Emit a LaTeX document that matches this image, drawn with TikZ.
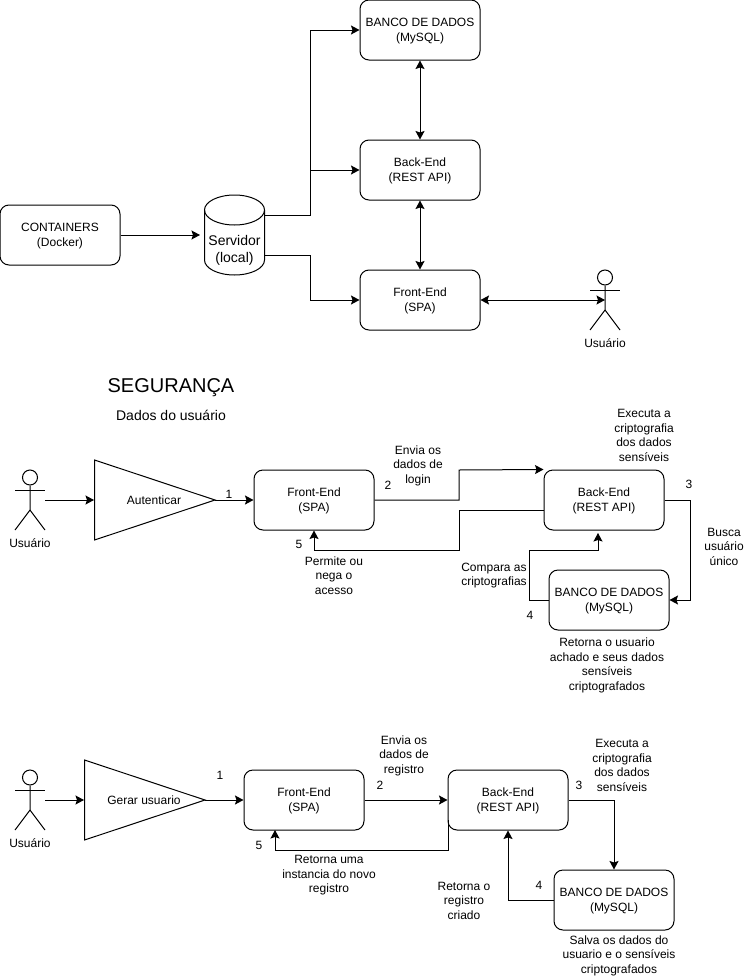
\documentclass[tikz,border=0pt]{standalone}
\usepackage{fontspec}
\setmainfont{Liberation Sans}
\usetikzlibrary{arrows.meta,shapes.geometric}
\tikzset{
  pics/stickman/.style={code={
    \node[circle, draw, line width=1pt, minimum size=15pt, inner sep=0pt] (-head) at (0,7.5) {};
    \draw[line width=1pt] (-head.south) -- (0,40) -- (-15,60);
    \draw[line width=1pt] (0,40) -- (15,60);
    \draw[line width=1pt] (-15,20) -- (15,20);
    \coordinate (-mid) at (0,30);
    \coordinate (-right) at (15,30);
  }}
}
\begin{document}
\begin{tikzpicture}[x=1pt, y=-1pt, line width=1pt, >={Stealth[length=8.5pt, width=9pt, inset=1.5pt]}]
    \tikzstyle{box} = [draw, rounded corners=9pt, minimum width=120pt, minimum height=60pt, align=center, inner sep=0pt, font=\fontsize{12}{14.5}\selectfont, text height=22pt, text depth=0pt]
    \tikzstyle{txt} = [align=center, inner sep=0pt, font=\fontsize{12}{14.5}\selectfont, yshift=-0.5pt]
    \tikzstyle{gate} = [draw, isosceles triangle, isosceles triangle stretches, minimum width=80pt, minimum height=120.5pt, inner sep=0pt, outer sep=0pt, anchor=apex]

    \useasboundingbox (0,0) rectangle (755,977);

    \node[box] (bancoA) at (420,30) {BANCO DE DADOS\\(MySQL)};
    \node[box] (backA) at (420,170) {Back-End\\(REST API)};
    \node[box] (frontA) at (420,300) {Front-End\\(SPA)};
    \node[box] (cont) at (60,235) {CONTAINERS\\(Docker)};
    \draw (234.5,210) ellipse [x radius=30pt, y radius=15pt];
    \draw (204.5,210) -- (204.5,260) .. controls (204.5,268.3) and (217.9,275) .. (234.5,275) .. controls (251.1,275) and (264.5,268.3) .. (264.5,260) -- (264.5,210);
    \node[align=center, inner sep=0pt, font=\fontsize{14}{17}\selectfont] (srv) at (234.5,250) {Servidor\\(local)};
    \pic (userA) at (605,270) {stickman};
    \node[txt] (userAtxt) at (605,343) {Usuário};

    \coordinate (srvIn) at (200,235);
    \coordinate (srvUp) at (264.5,215);
    \coordinate (srvDown) at (264.5,255);
    \draw[->] (cont) -- (srvIn);
    \draw[->] (srvUp) -- (310,215) -- (310,30) -- (bancoA.west);
    \draw[->] (310,170) -- (backA.west);
    \draw[->] (srvDown) -- (310,255) -- (310,300) -- (frontA.west);
    \draw[<->] (bancoA) -- (backA);
    \draw[<->] (backA) -- (frontA);
    \draw[<->] (frontA) -- (userA-mid);

    \node[align=center, inner sep=0pt, font=\fontsize{20}{24}\selectfont] (titulo) at (171,388) {SEGURANÇA};
    \node[align=center, inner sep=0pt, font=\fontsize{14}{17}\selectfont] (subtitulo) at (171,415) {Dados do usuário};

    \pic (userB) at (30,470) {stickman};
    \node[txt] (userBtxt) at (30,543) {Usuário};
    \node[gate] (auth) at (215,500) {};
    \coordinate (authIn) at (94,500);
    \node[txt] (authtxt) at (154,500) {Autenticar};
    \node[box] (frontB) at (314,500) {Front-End\\(SPA)};
    \node[box] (backB) at (604,500) {Back-End\\(REST API)};
    \node[box] (bancoB) at (609,600) {BANCO DE DADOS\\(MySQL)};

    \coordinate (backBout) at (544,510);
    \coordinate (backBin) at (598,533);
    \draw[->] (userB-right) -- (authIn);
    \draw[->] (auth.apex) -- (frontB.west);
    \draw[->] (frontB.east) -- (459,500) -- (459,470) -- (backB.north west);
    \draw[->] (backBout) -- (459,510) -- (459,550) -- (314,550) -- (frontB.south);
    \draw[->] (backB.east) -- (690,500) -- (690,600) -- (bancoB.east);
    \draw[->] (bancoB.west) -- (529,600) -- (529,550) -- (598,550) -- (backBin);

    \node[txt] (n1B) at (229,494) {1};
    \node[txt] (n2B) at (388,485) {2};
    \node[txt] (n3B) at (689,484) {3};
    \node[txt] (n4B) at (530,615) {4};
    \node[txt] (n5B) at (299,544) {5};
    \node[txt] (enviaB) at (418,465) {Envia os\\dados de\\login};
    \node[txt] (permite) at (334,575) {Permite ou\\nega o\\acesso};
    \node[txt] (execB) at (644,435) {Executa a\\criptografia\\dos dados\\sensíveis};
    \node[txt] (busca) at (724,546) {Busca\\usuário\\único};
    \node[txt] (compara) at (494,575) {Compara as\\criptografias};
    \node[txt] (retornaB) at (607,665) {Retorna o usuario\\achado e seus dados\\sensíveis\\criptografados};

    \pic (userC) at (30,770) {stickman};
    \node[txt] (userCtxt) at (30,843) {Usuário};
    \node[gate] (gerar) at (205,800) {};
    \coordinate (gerarIn) at (84,800);
    \node[txt] (gerartxt) at (144,800) {Gerar usuario};
    \node[box] (frontC) at (304,800) {Front-End\\(SPA)};
    \node[box] (backC) at (508,800) {Back-End\\(REST API)};
    \node[box] (bancoC) at (614,900) {BANCO DE DADOS\\(MySQL)};

    \coordinate (backCout) at (448,820);
    \coordinate (frontCin) at (275,830);
    \draw[->] (userC-right) -- (gerarIn);
    \draw[->] (gerar.apex) -- (frontC.west);
    \draw[->] (frontC.east) -- (backC.west);
    \draw[->] (backC.east) -- (614,800) -- (bancoC.north);
    \draw[->] (bancoC.west) -- (508,900) -- (backC.south);
    \draw[->] (backCout) -- (448,850) -- (275,850) -- (frontCin);

    \node[txt] (n1C) at (220,775) {1};
    \node[txt] (n2C) at (380,785) {2};
    \node[txt] (n3C) at (579,785) {3};
    \node[txt] (n4C) at (539,885) {4};
    \node[txt] (n5C) at (259,845) {5};
    \node[txt] (enviaC) at (404,755) {Envia os\\dados de\\registro};
    \node[txt] (execC) at (622,765) {Executa a\\criptografia\\dos dados\\sensíveis};
    \node[txt] (retornaC) at (329,875) {Retorna uma\\instancia do novo\\registro};
    \node[txt] (criado) at (464,900) {Retorna o\\registro\\criado};
    \node[txt] (salva) at (619,955) {Salva os dados do\\usuario e o sensíveis\\criptografados};
\end{tikzpicture}
\end{document}
